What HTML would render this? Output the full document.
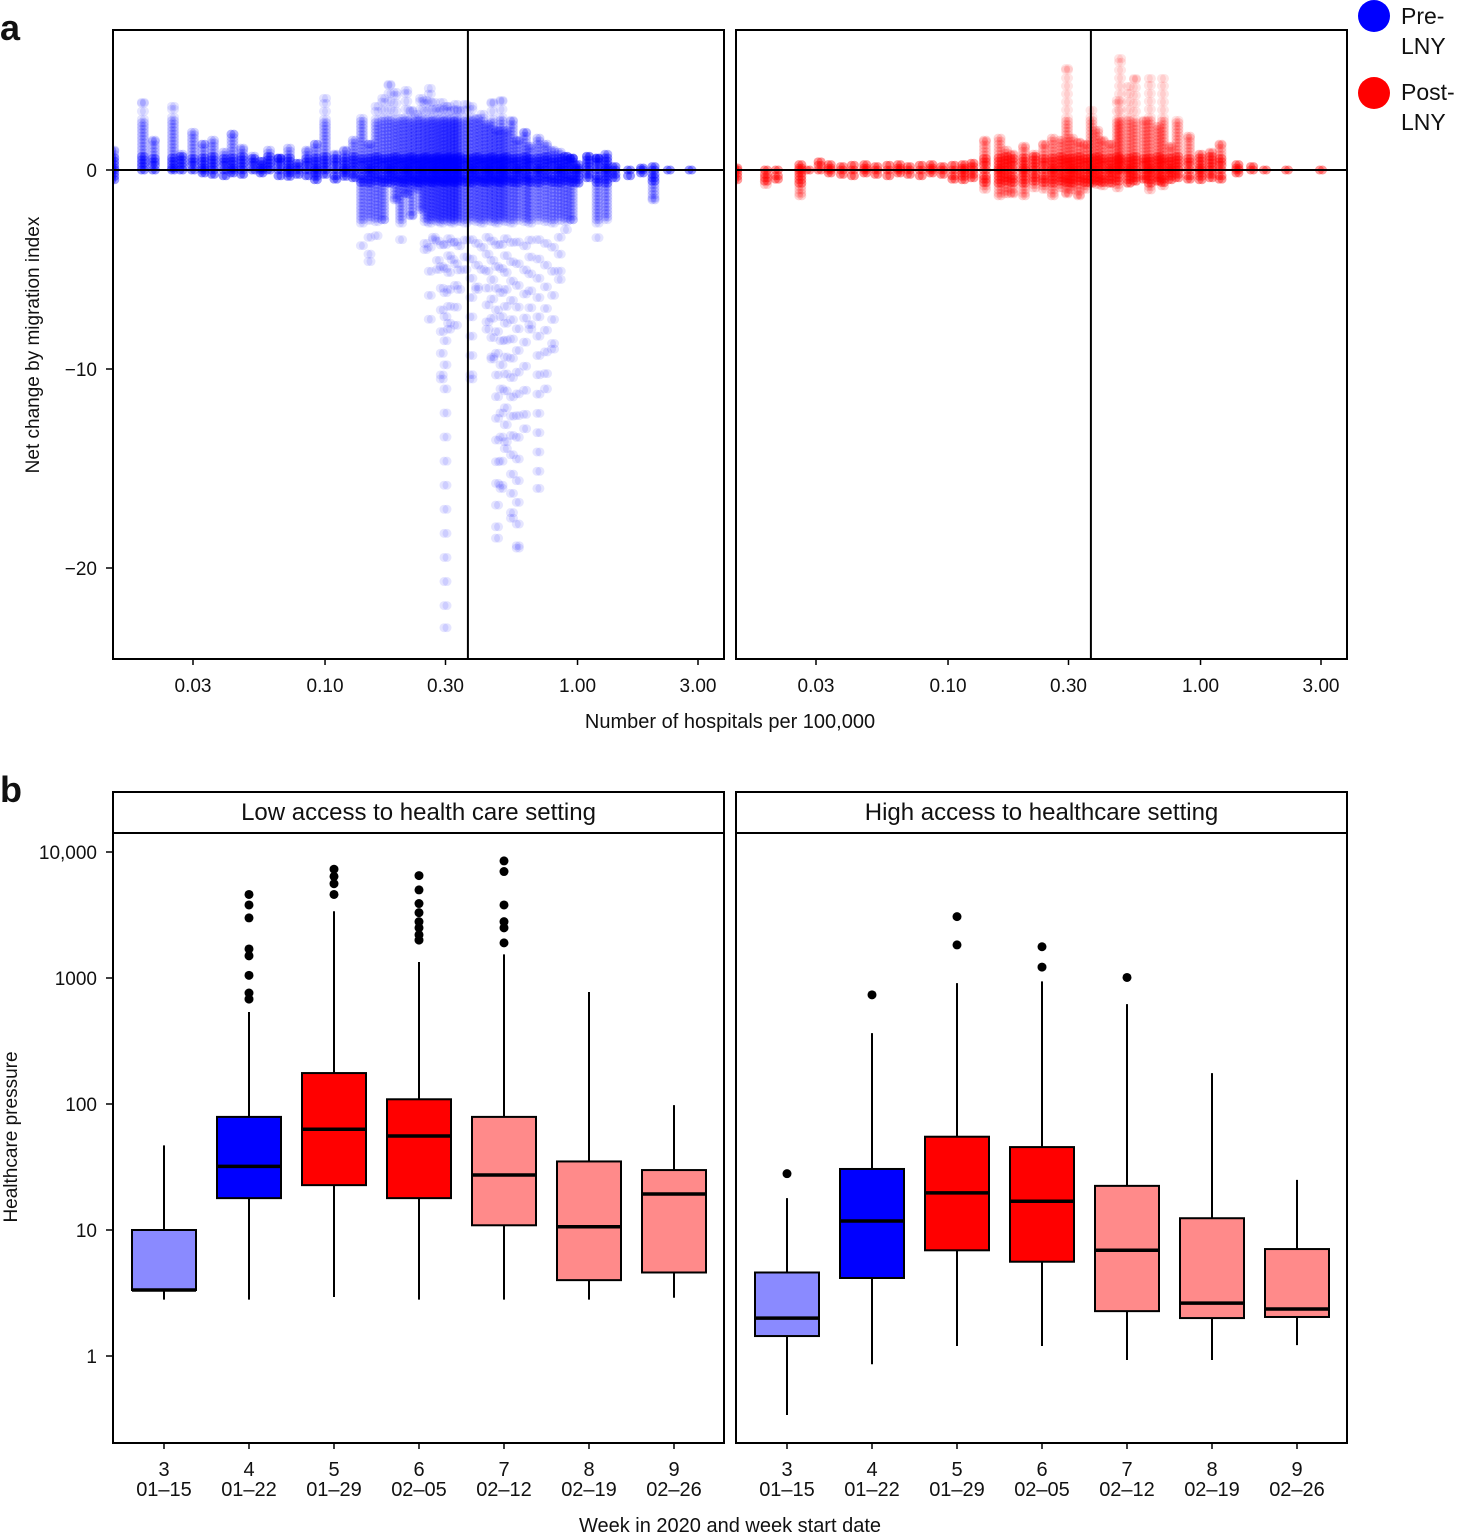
<!DOCTYPE html>
<html><head><meta charset="utf-8"><style>
body{margin:0;background:#fff}
svg text{font-family:"Liberation Sans",Arial,sans-serif;fill:#111}
</style></head><body>
<svg id="chart" width="1458" height="1533" viewBox="0 0 1458 1533" xmlns="http://www.w3.org/2000/svg"></svg>
<script>
// ---- Panel a data: vertical strips of points (hospitals per 100k, min net change, max net change)
const preX   =[0.0145,0.019,0.021,0.025,0.027,0.03,0.033,0.036,0.04,0.043,0.047,0.052,0.056,0.06,0.066,0.072,0.078,0.085,0.092,0.1,0.11,0.12,0.13,0.14,0.15,0.16,0.17,0.18,0.19,0.2,0.21,0.22,0.23,0.24,0.25,0.26,0.27,0.28,0.29,0.30,0.31,0.32,0.33,0.34,0.36,0.38,0.40,0.42,0.44,0.46,0.48,0.50,0.52,0.55,0.58,0.62,0.65,0.70,0.75,0.80,0.85,0.9,0.95,1.0,1.1,1.2,1.3,1.4,1.6,1.8,2.0,2.3,2.8];
const preMin =[-0.5,0,0,0,0,0,-0.3,-0.3,-0.3,-0.2,-0.3,-0.2,-0.3,-0.2,-0.3,-0.4,-0.3,-0.3,-0.5,-0.3,-0.5,-0.4,-0.4,-3.8,-4.6,-3.3,-2.5,-0.7,-1.5,-3.5,-1.2,-2.3,-1.0,-2,-4,-7.5,-3.5,-5.0,-10.5,-23,-8,-4.5,-7.8,-6,-5,-10.5,-6,-5,-8,-9.5,-18.5,-16,-14,-17.5,-19,-13,-8,-16,-11,-9,-5.5,-3,-2.5,-0.8,-0.5,-3.4,-2.5,-0.5,-0.4,-0.3,-1.5,0,0];
const preMax =[1,3.4,1.5,3.2,0.8,1.9,1.3,1.5,0.9,1.8,1.1,0.7,0.5,1.0,0.6,1.1,0.5,1.0,1.3,3.6,0.8,1.0,1.5,2.6,1.3,3.2,3.6,4.3,3.9,2.6,4.0,3.0,2.8,3.6,3.5,4.1,3.4,3.1,3.4,3.2,3.2,3.0,3.3,3.0,3.3,3.2,2.6,2.8,2.3,3.4,2.0,3.5,2.0,2.5,1.5,1.9,1.2,1.6,1.3,1.0,0.9,0.7,0.6,0.4,0.7,0.6,0.8,0.3,0.2,0.2,0.2,0,0];
const postX  =[0.0145,0.019,0.021,0.026,0.028,0.031,0.034,0.038,0.042,0.047,0.052,0.058,0.064,0.07,0.078,0.086,0.095,0.105,0.115,0.125,0.14,0.16,0.17,0.18,0.2,0.22,0.24,0.26,0.28,0.296,0.31,0.33,0.35,0.37,0.39,0.41,0.44,0.47,0.48,0.52,0.55,0.6,0.63,0.68,0.71,0.76,0.81,0.9,1.0,1.1,1.2,1.4,1.6,1.8,2.2,3.0];
const postMin=[-0.5,-0.8,-0.5,-1.3,-0.2,-0.2,-0.3,-0.3,-0.3,-0.3,-0.3,-0.3,-0.3,-0.3,-0.3,-0.3,-0.3,-0.5,-0.5,-0.4,-1.0,-1.3,-1.2,-1.2,-1.3,-1.0,-1.0,-1.3,-1.0,-1.2,-1.0,-1.3,-1.0,-0.8,-0.8,-0.8,-0.7,-1.0,0,-0.8,-0.7,-0.6,-1.0,-0.7,-0.8,-0.5,-0.5,-0.5,-0.5,-0.4,-0.5,-0.2,-0.1,0,0,0];
const postMax=[0.2,0,0,0.3,0.1,0.5,0.3,0.3,0.3,0.3,0.3,0.3,0.3,0.3,0.3,0.3,0.3,0.4,0.4,0.5,1.5,1.6,1.0,0.8,1.2,0.8,1.3,1.6,1.5,5.1,1.6,1.4,1.3,3.0,2.0,1.5,1.3,3.5,5.6,4.2,4.6,2.5,4.6,2.2,4.6,1.2,2.5,1.7,0.8,0.9,1.3,0.3,0.3,0.2,0,0];
const aTicks=[0.03,0.10,0.30,1.00,3.00];
const aYTicks=[0,-10,-20];
const aVLine=0.368;

// ---- Panel b data
const weeks=["3","4","5","6","7","8","9"];
const dates=["01\u201315","01\u201322","01\u201329","02\u201305","02\u201312","02\u201319","02\u201326"];
const lowLo =[2.8,2.8,2.94,2.8,2.8,2.8,2.9];
const lowQ1 =[3.34,17.9,22.7,17.9,10.9,4.0,4.6];
const lowMed=[3.34,32,63,55.7,27.3,10.6,19.3];
const lowQ3 =[10,79,176,109,79,35,29.9];
const lowHi =[47,537,3390,1340,1540,775,98];
const lowOut=[[],[4600,3800,3000,1700,1500,1050,760,680],[7300,6400,5600,4600],[6500,5000,3900,3300,2800,2500,2200,2000],[8500,7000,3800,2800,2500,1900],[],[]];
const hiLo  =[0.34,0.86,1.2,1.2,0.93,0.93,1.22];
const hiQ1  =[1.44,4.16,6.9,5.6,2.27,2.0,2.04];
const hiMed =[2.0,11.8,19.7,16.9,6.9,2.63,2.36];
const hiQ3  =[4.6,30.5,55,45.5,22.4,12.4,7.06];
const hiHi  =[17.9,365,910,940,620,176,25];
const hiOut =[[28],[735],[3070,1830],[1770,1220],[1010],[],[]];
const fills =["#8a8aff","#0000ff","#ff0000","#ff0000","#ff8a8a","#ff8a8a","#ff8a8a"];
const bTicks=[10000,1000,100,10,1];
const bTickLabels=["10,000","1000","100","10","1"];

const NS="http://www.w3.org/2000/svg";
const svg=document.getElementById('chart');
function mk(tag,attrs,parent,text){const e=document.createElementNS(NS,tag);for(const k in attrs)e.setAttribute(k,attrs[k]);if(text!==undefined)e.textContent=text;(parent||svg).appendChild(e);return e;}

const aTop=30,aBot=659;
function ay(v){return 170-v*19.9;}
function ax(v,off){return off+193+(Math.log10(v)-Math.log10(0.03))*252.5;}
const aPanels=[{off:0,l:113,X:preX,mn:preMin,mx:preMax,col:"#0000ff",name:"pre-lny"},{off:623,l:736,X:postX,mn:postMin,mx:postMax,col:"#ff0000",name:"post-lny"}];
aPanels.forEach(p=>{
  const g=mk('g',{});
  
  
  const cg=mk('g',{'clip-path':'url(#c'+p.off+')'},g);
  const cp=mk('clipPath',{id:'c'+p.off},g);mk('rect',{x:p.l,y:aTop,width:611,height:aBot-aTop},cp);
  for(let i=0;i<p.X.length;i++){
    const pts=[0];
    const s=(i%3)*0.07;
    for(let v=s+0.1;v<=p.mx[i]+1e-6;v+=(v<2.5?0.17:0.4))pts.push(v);
    if(p.mx[i]>0.5)pts.push(p.mx[i]);
    for(let v=-0.15-s;v>=p.mn[i]-1e-6;v-=(v>-2.5?0.17:0.85+(i%4)*0.12))pts.push(v);
    if(p.mn[i]<-1)pts.push(p.mn[i]);
    [-1.5,1.5].forEach(dx=>{
      const x=ax(p.X[i],p.off)+dx*(i%2?1:-1);
      pts.forEach(v=>{
        const c=mk('circle',{cx:x,cy:ay(v),r:4.5,fill:p.col,'fill-opacity':Math.abs(v)<0.7?0.4:(Math.abs(v)<2.5?0.16:0.1)},cg);
        
        
      });
    });
  }
  mk('line',{x1:p.l,x2:p.l+611,y1:ay(0),y2:ay(0),stroke:'#000','stroke-width':2},g);
  mk('line',{x1:ax(aVLine,p.off),x2:ax(aVLine,p.off),y1:aTop,y2:aBot,stroke:'#000','stroke-width':2},g);
  mk('rect',{x:p.l,y:aTop,width:611,height:aBot-aTop,fill:'none',stroke:'#000','stroke-width':2},g);
  aTicks.forEach(t=>{
    const x=ax(t,p.off);
    mk('line',{x1:x,x2:x,y1:aBot,y2:aBot+6,stroke:'#000','stroke-width':1.5},g);
    const tx=mk('text',{x:x,y:aBot+33,'text-anchor':'middle','font-size':19},g,t.toFixed(2));
    
    
  });
});
aYTicks.forEach(t=>{
  mk('line',{x1:106,x2:113,y1:ay(t),y2:ay(t),stroke:'#000','stroke-width':1.5});
  const tx=mk('text',{x:97,y:ay(t)+7,'text-anchor':'end','font-size':19},svg,t<0?'\u2212'+(-t):String(t));
  
  
});
mk('text',{x:0,y:40,'font-size':36,'font-weight':'bold',},svg,'a');
mk('text',{x:730,y:728,'text-anchor':'middle','font-size':20,},svg,'Number of hospitals per 100,000');
mk('text',{x:0,y:0,transform:'translate(39,345) rotate(-90)','text-anchor':'middle','font-size':19,},svg,'Net change by migration index');
const lg=mk('g',{});
mk('circle',{cx:1374,cy:16,r:16,fill:'#0000ff',},lg);
mk('text',{x:1401,y:24,'font-size':23},lg,'Pre-');mk('text',{x:1401,y:54,'font-size':23},lg,'LNY');
mk('circle',{cx:1374,cy:93,r:16,fill:'#ff0000',},lg);
mk('text',{x:1401,y:100,'font-size':23},lg,'Post-');mk('text',{x:1401,y:130,'font-size':23},lg,'LNY');

const bTop=833,bBot=1443;
function by(v){return 1356-Math.log10(v)*126;}
const bPanels=[{l:113,title:'Low access to health care setting',lo:lowLo,q1:lowQ1,md:lowMed,q3:lowQ3,hi:lowHi,out:lowOut,name:'low-access'},
               {l:736,title:'High access to healthcare setting',lo:hiLo,q1:hiQ1,md:hiMed,q3:hiQ3,hi:hiHi,out:hiOut,name:'high-access'}];
bPanels.forEach(p=>{
  const g=mk('g',{});
  
  
  mk('rect',{x:p.l,y:792,width:611,height:41,fill:'#fff',stroke:'#000','stroke-width':2},g);
  mk('text',{x:p.l+305.5,y:820,'text-anchor':'middle','font-size':24,},g,p.title);
  weeks.forEach((w,i)=>{
    const cx=p.l+51+i*85;
    const bg=mk('g',{},g);
    
    
    mk('line',{x1:cx,x2:cx,y1:by(p.lo[i]),y2:by(p.hi[i]),stroke:'#000','stroke-width':2},bg);
    mk('rect',{x:cx-32,y:by(p.q3[i]),width:64,height:by(p.q1[i])-by(p.q3[i]),fill:fills[i],stroke:'#000','stroke-width':2},bg);
    mk('line',{x1:cx-32,x2:cx+32,y1:by(p.md[i]),y2:by(p.md[i]),stroke:'#000','stroke-width':3.5},bg);
    p.out[i].forEach(o=>{const c=mk('circle',{cx:cx,cy:by(o),r:4.5,fill:'#000'},bg);
      
      });
    mk('line',{x1:cx,x2:cx,y1:bBot,y2:bBot+6,stroke:'#000','stroke-width':1.5},g);
    mk('text',{x:cx,y:1476,'text-anchor':'middle','font-size':20},g,w);
    mk('text',{x:cx,y:1496,'text-anchor':'middle','font-size':20},g,dates[i]);
  });
  mk('rect',{x:p.l,y:bTop,width:611,height:bBot-bTop,fill:'none',stroke:'#000','stroke-width':2},g);
});
bTicks.forEach((t,i)=>{
  mk('line',{x1:106,x2:113,y1:by(t),y2:by(t),stroke:'#000','stroke-width':1.5});
  const tx=mk('text',{x:97,y:by(t)+7,'text-anchor':'end','font-size':19},svg,bTickLabels[i]);
  
  
});
mk('text',{x:0,y:802,'font-size':36,'font-weight':'bold',},svg,'b');
mk('text',{x:730,y:1532,'text-anchor':'middle','font-size':20,},svg,'Week in 2020 and week start date');
mk('text',{x:0,y:0,transform:'translate(17,1137) rotate(-90)','text-anchor':'middle','font-size':19,},svg,'Healthcare pressure');
</script>
</body></html>
